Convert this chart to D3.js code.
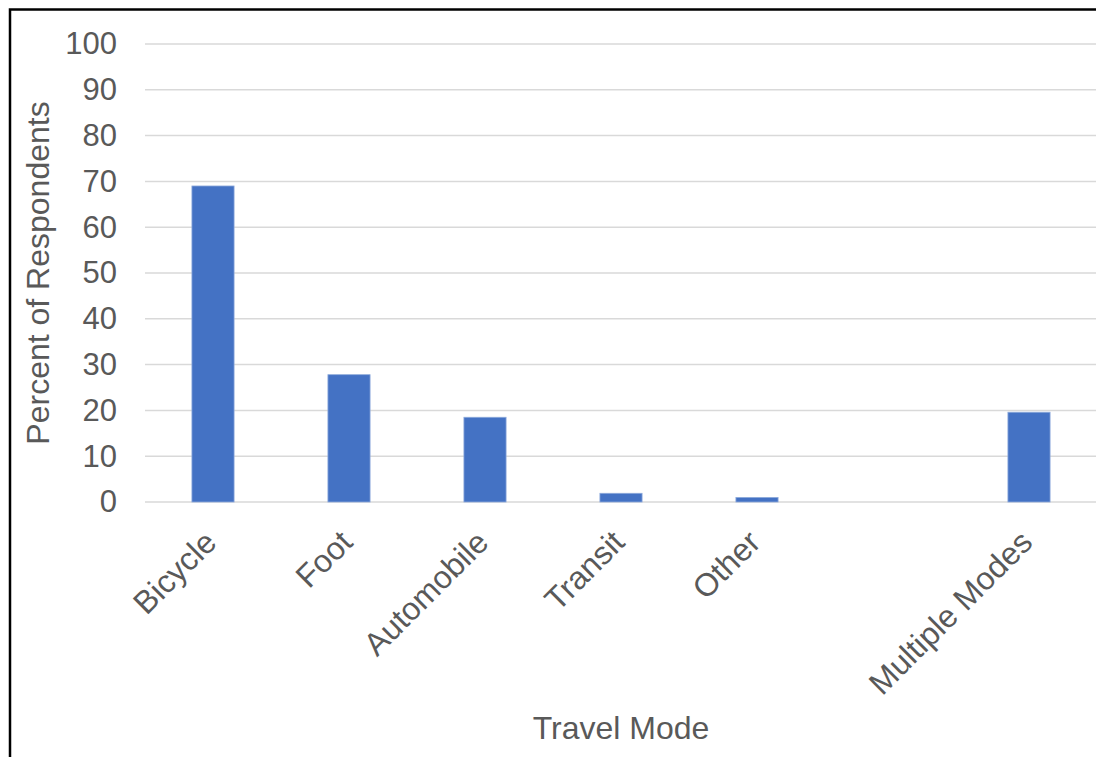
<!DOCTYPE html>
<html>
<head>
<meta charset="utf-8">
<script src="https://cdn.jsdelivr.net/npm/d3@7"></script>
<style>
  body { margin: 0; background: #fff; }
  svg { display: block; font-family: "Liberation Sans", Arial, sans-serif; }
</style>
</head>
<body>
<div id="chart"></div>
<script>
// categories (one empty slot before Multiple Modes, as in the original)
var categories = ["Bicycle", "Foot", "Automobile", "Transit", "Other", "", "Multiple Modes"];
// percent of respondents
var values = [69.0, 27.8, 18.5, 1.9, 1.0, null, 19.6];
var yTicks = [0, 10, 20, 30, 40, 50, 60, 70, 80, 90, 100];

var W = 1096, H = 757;
var margin = {top: 44, right: -1, bottom: 255, left: 145},
    width = W - margin.left - margin.right,
    height = H - margin.top - margin.bottom;

var textColor = "#595959";

var svg = d3.select("#chart")
    .append("svg")
    .attr("width", W)
    .attr("height", H);

// chart frame (runs off the right and bottom of the picture)
svg.append("rect")
    .attr("x", 10)
    .attr("y", 9.5)
    .attr("width", W + 20)
    .attr("height", H + 20)
    .attr("fill", "none")
    .attr("stroke", "#000")
    .attr("stroke-width", 2.5);

var g = svg.append("g")
    .attr("transform", "translate(" + margin.left + "," + margin.top + ")");

var x = d3.scaleBand()
    .domain(categories)
    .range([0, width])
    .paddingInner(0.69)
    .paddingOuter(0.345);

var y = d3.scaleLinear()
    .domain([0, 100])
    .range([height, 0]);

// gridlines
g.append("g")
    .selectAll("line")
    .data(yTicks)
    .enter()
    .append("line")
    .attr("x1", 0)
    .attr("x2", width)
    .attr("y1", d => y(d))
    .attr("y2", d => y(d))
    .attr("stroke", "#d9d9d9")
    .attr("stroke-width", 1.5);

// y axis labels
var yAxis = g.append("g")
    .call(d3.axisLeft(y).tickValues(yTicks).tickSize(0).tickPadding(28));
yAxis.select(".domain").remove();
yAxis.selectAll("text")
    .attr("fill", textColor)
    .style("font-size", "31px")
    .style("font-family", "'Liberation Sans', Arial, sans-serif");

// bars
g.selectAll(".bar")
    .data(categories.map((c, i) => ({cat: c, v: values[i]})).filter(d => d.v != null))
    .enter()
    .append("rect")
    .attr("class", "bar")
    .attr("x", d => x(d.cat))
    .attr("width", x.bandwidth())
    .attr("y", d => y(d.v))
    .attr("height", d => y(0) - y(d.v))
    .attr("fill", "#4472c4")
    .attr("stroke", "#8eaadb")
    .attr("stroke-width", 0.8);

// x axis labels, rotated
var xAxis = g.append("g")
    .attr("transform", "translate(0," + height + ")")
    .call(d3.axisBottom(x).tickSize(0).tickPadding(0));
xAxis.select(".domain").remove();
xAxis.selectAll("text")
    .attr("fill", textColor)
    .style("font-size", "32px")
    .style("font-family", "'Liberation Sans', Arial, sans-serif")
    .attr("text-anchor", "end")
    .attr("y", 0)
    .attr("dy", "0.72em")
    .attr("transform", "translate(-11,26) rotate(-45)");

// axis titles
svg.append("text")
    .attr("transform", "translate(38," + (margin.top + height / 2) + ") rotate(-90)")
    .attr("text-anchor", "middle")
    .attr("dy", "0.35em")
    .attr("fill", textColor)
    .style("font-size", "32px")
    .text("Percent of Respondents");

svg.append("text")
    .attr("x", margin.left + width / 2)
    .attr("y", 739)
    .attr("text-anchor", "middle")
    .attr("fill", textColor)
    .style("font-size", "32px")
    .text("Travel Mode");
</script>
</body>
</html>
